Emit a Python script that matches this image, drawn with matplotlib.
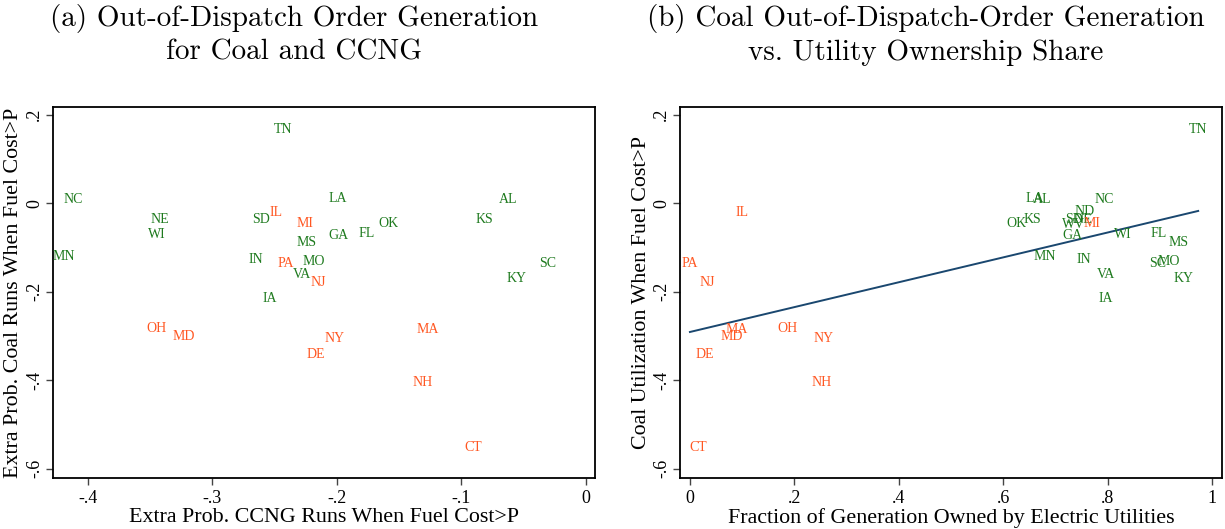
import matplotlib
matplotlib.use("Agg")
import matplotlib.pyplot as plt
from matplotlib.ticker import FixedLocator, FuncFormatter

# ---------------- data ----------------
# Panel (a): x = extra prob. CCNG runs, y = extra prob. coal runs
a_states = ["TN", "NC", "NE", "WI", "MN", "SD", "IL", "MI", "MS", "IN",
            "PA", "MO", "VA", "NJ", "IA", "LA", "AL", "KS", "OK", "FL",
            "GA", "SC", "KY", "MA", "NY", "DE", "NH", "CT", "OH", "MD"]
a_ccng = [-0.243, -0.412, -0.342, -0.345, -0.419, -0.261, -0.249, -0.226, -0.224, -0.265,
          -0.241, -0.219, -0.228, -0.215, -0.254, -0.199, -0.0624, -0.0817, -0.159, -0.176,
          -0.199, -0.0308, -0.0557, -0.127, -0.202, -0.217, -0.131, -0.091, -0.345, -0.323]
a_coal = [0.167, 0.007, -0.037, -0.072, -0.121, -0.038, -0.022, -0.046, -0.088, -0.127,
          -0.136, -0.133, -0.161, -0.180, -0.215, 0.010, 0.008, -0.036, -0.047, -0.069,
          -0.074, -0.136, -0.171, -0.285, -0.306, -0.342, -0.406, -0.551, -0.283, -0.301]
a_utility = [True, True, True, True, True, True, False, False, True, True,
             False, True, True, False, True, True, True, True, True, True,
             True, True, True, False, False, False, False, False, False, False]

# Panel (b): x = fraction owned by utilities, y = coal out-of-dispatch generation
b_states = ["TN", "NC", "LA", "AL", "OK", "KS", "ND", "SD", "NE", "WV",
            "MI", "GA", "WI", "FL", "MS", "MN", "IN", "SC", "MO", "VA",
            "KY", "IA", "IL", "PA", "NJ", "MA", "MD", "OH", "NY", "DE",
            "NH", "CT"]
b_share = [0.973, 0.793, 0.661, 0.674, 0.626, 0.655, 0.755, 0.735, 0.752, 0.735,
           0.769, 0.733, 0.828, 0.897, 0.935, 0.680, 0.754, 0.895, 0.916, 0.796,
           0.944, 0.796, 0.099, 0.000, 0.033, 0.089, 0.080, 0.186, 0.255, 0.029,
           0.253, 0.015]
b_coal = [0.167, 0.007, 0.010, 0.008, -0.047, -0.036, -0.020, -0.038, -0.037, -0.048,
          -0.046, -0.074, -0.072, -0.069, -0.088, -0.121, -0.127, -0.136, -0.133, -0.161,
          -0.171, -0.215, -0.022, -0.136, -0.180, -0.285, -0.301, -0.283, -0.306, -0.342,
          -0.406, -0.551]
b_utility = [True, True, True, True, True, True, True, True, True, True,
             False, True, True, True, True, True, True, True, True, True,
             True, True, False, False, False, False, False, False, False, False,
             False, False]

# linear fit line
fit_intercept = -0.2912
fit_slope = 0.281

a_xticks = [-0.4, -0.3, -0.2, -0.1, 0.0]
b_xticks = [0.0, 0.2, 0.4, 0.6, 0.8, 1.0]
yticks = [-0.6, -0.4, -0.2, 0.0, 0.2]

title_a = "(a) Out-of-Dispatch Order Generation\nfor Coal and CCNG"
title_b = "(b) Coal Out-of-Dispatch-Order Generation\nvs. Utility Ownership Share"
xlabel_a = "Extra Prob. CCNG Runs When Fuel Cost>P"
ylabel_a = "Extra Prob. Coal Runs When Fuel Cost>P"
xlabel_b = "Fraction of Generation Owned by Electric Utilities"
ylabel_b = "Coal Utilization When Fuel Cost>P"

# ---------------- style ----------------
GREEN = "#1e7a1e"
ORANGE = "#ff5722"
NAVY = "#1a476f"
SERIF = ["Liberation Serif", "DejaVu Serif"]

plt.rcParams["font.family"] = SERIF
plt.rcParams["axes.unicode_minus"] = False


def fmt(v, pos=None):
    if abs(v) < 1e-9:
        return "0"
    if abs(abs(v) - 1) < 1e-9:
        return "1" if v > 0 else "-1"
    s = ("%.1f" % v).replace("0.", ".")
    return s


W, H = 1225, 529
fig = plt.figure(figsize=(W / 100, H / 100), dpi=100)


def px_axes(x0, y0, x1, y1):
    return fig.add_axes([x0 / W, 1 - y1 / H, (x1 - x0) / W, (y1 - y0) / H])


axA = px_axes(53, 107, 595, 478)
axB = px_axes(680, 107, 1222, 478)


def style(ax, xticks, xlim):
    ax.set_xlim(*xlim)
    ax.set_ylim(-0.621, 0.217)
    ax.xaxis.set_major_locator(FixedLocator(xticks))
    ax.yaxis.set_major_locator(FixedLocator(yticks))
    ax.xaxis.set_major_formatter(FuncFormatter(fmt))
    ax.yaxis.set_major_formatter(FuncFormatter(fmt))
    ax.tick_params(axis="both", direction="out", length=5, width=1.0,
                   labelsize=13, color="#444444")
    ax.tick_params(axis="y", labelrotation=90, pad=2)
    for lab in ax.get_yticklabels():
        lab.set_va("center")
    for sp in ax.spines.values():
        sp.set_linewidth(1.3)
        sp.set_color("black")


style(axA, a_xticks, (-0.428, 0.0072))
style(axB, b_xticks, (-0.019, 1.0186))

for s, x, y, u in zip(a_states, a_ccng, a_coal, a_utility):
    axA.text(x, y, s, ha="center", va="center", fontsize=10,
             color=GREEN if u else ORANGE)

for s, x, y, u in zip(b_states, b_share, b_coal, b_utility):
    axB.text(x, y, s, ha="center", va="center", fontsize=10,
             color=GREEN if u else ORANGE)

xmin, xmax = min(b_share), max(b_share)
axB.plot([xmin, xmax], [fit_intercept + fit_slope * xmin, fit_intercept + fit_slope * xmax],
         color=NAVY, linewidth=1.4)

axA.set_xlabel(xlabel_a, fontsize=15.8, labelpad=1)
axA.set_ylabel(ylabel_a, fontsize=15.8, labelpad=2)
axB.set_xlabel(xlabel_b, fontsize=15.8, labelpad=1)
axB.set_ylabel(ylabel_b, fontsize=15.8, labelpad=2)

fig.text(294 / W, 1 - 35 / H, title_a, ha="center", va="center", fontsize=21,
         family=["cmr10", "DejaVu Serif"], linespacing=1.3)
fig.text(926 / W, 1 - 35 / H, title_b, ha="center", va="center", fontsize=21,
         family=["cmr10", "DejaVu Serif"], linespacing=1.3)

fig.savefig("out.png", dpi=100)
